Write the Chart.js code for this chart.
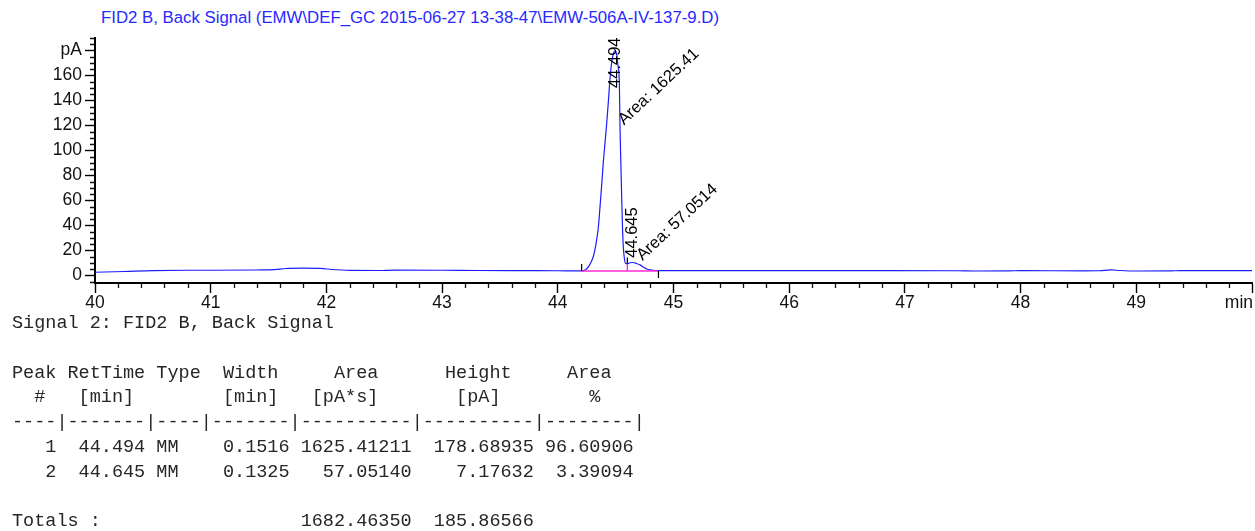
<!DOCTYPE html>
<html>
<head>
<meta charset="utf-8">
<script src="https://cdn.jsdelivr.net/npm/chart.js@4.4.1/dist/chart.umd.min.js"></script>
<style>
  html, body { margin: 0; padding: 0; background: #fff; width: 1255px; height: 531px; overflow: hidden; position: relative; }
  #title { position: absolute; left: 101px; top: 8px; font: 16.8px "Liberation Sans", Arial, sans-serif; color: #2828ff; white-space: pre; }
  #plot { position: absolute; left: 0; top: 0; }
  #report { position: absolute; left: 12px; top: 312px; margin: 0; font: 18.5px/24.8px "Liberation Mono", "Courier New", monospace; color: #262626; white-space: pre; }
</style>
</head>
<body>
<div id="title">FID2 B, Back Signal (EMW\DEF_GC 2015-06-27 13-38-47\EMW-506A-IV-137-9.D)</div>
<canvas id="plot" width="1255" height="320"></canvas>
<pre id="report"></pre>
<script>
// Detector trace: retention time [min] and signal [pA]
const retentionTimes = [
  40.00, 40.25, 40.50, 40.80, 41.00, 41.40, 41.55, 41.65, 41.80, 41.95, 42.05, 42.20, 42.45, 42.60, 43.00, 43.30, 43.60, 44.00,
  44.206, 44.24, 44.27, 44.29, 44.307, 44.33, 44.35, 44.365, 44.38, 44.393, 44.41, 44.423, 44.44, 44.451, 44.465, 44.48, 44.494,
  44.508, 44.52, 44.532, 44.538, 44.545, 44.552, 44.558, 44.566, 44.575, 44.585, 44.60, 44.625, 44.65, 44.68, 44.711, 44.74,
  44.768, 44.81, 44.87, 45.50, 46.50, 47.45, 47.60, 47.90, 48.00, 48.55, 48.68, 48.78, 48.86, 49.00, 49.30, 49.38, 50.00
];
const signalPA = [
  2.4, 3.0, 3.7, 4.0, 4.0, 4.2, 4.5, 5.4, 5.7, 5.5, 4.6, 3.9, 3.8, 4.1, 4.0, 3.8, 3.7, 3.6,
  3.5, 4.5, 7.5, 11, 15, 25, 38, 55, 73, 90, 108, 122, 143, 157, 170, 177.5, 180,
  177, 168, 154, 117, 90, 63, 42, 23, 14, 9.5, 9.3, 10.0, 10.2, 9.4, 8.3, 6.5,
  5.0, 4.2, 3.7, 3.7, 3.7, 3.6, 3.4, 3.5, 3.7, 3.5, 3.6, 4.3, 3.8, 3.4, 3.5, 3.7, 3.7
];

// Axis ticks
const xTickValues = [40, 41, 42, 43, 44, 45, 46, 47, 48, 49, 50];
const yTickValues = [0, 20, 40, 60, 80, 100, 120, 140, 160, 180];

// Integrated peaks
const peakRetTimes = [44.494, 44.645];
const peakTimeLabels = ['44.494', '44.645'];
const peakAreaLabels = ['1625.41', '57.0514'];
const integrationStart = 44.206;
const integrationSplit = 44.601;
const integrationEnd = 44.870;
const integrationBase = 3.4;
const splitSignal = 9.4;

// Report table
const peakNumbers = ['1', '2'];
const reportRetTimes = ['44.494', '44.645'];
const peakTypes = ['MM', 'MM'];
const peakWidths = ['0.1516', '0.1325'];
const peakAreas = ['1625.41211', '57.05140'];
const peakHeights = ['178.68935', '7.17632'];
const peakAreaPct = ['96.60906', '3.39094'];
const totalArea = '1682.46350';
const totalHeight = '185.86566';

const reportLines = [
  'Signal 2: FID2 B, Back Signal',
  '',
  'Peak RetTime Type  Width     Area      Height     Area  ',
  '  #   [min]        [min]   [pA*s]       [pA]        %   ',
  '----|-------|----|-------|----------|----------|--------|'
];
peakNumbers.forEach((n, i) => {
  reportLines.push(
    n.padStart(4) + reportRetTimes[i].padStart(8) + ' ' + peakTypes[i].padEnd(4) +
    peakWidths[i].padStart(8) + peakAreas[i].padStart(11) + peakHeights[i].padStart(11) +
    peakAreaPct[i].padStart(9)
  );
});
reportLines.push('');
reportLines.push('Totals :'.padEnd(25) + totalArea.padStart(11) + totalHeight.padStart(11));
document.getElementById('report').textContent = reportLines.join('\n');

const FONT = '"Liberation Sans", Arial, sans-serif';
const TRACE_BLUE = '#1c1cff';
const TICK_FONT_SIZE = 17.5;

const peakMarks = {
  id: 'peakMarks',
  afterDraw(chart) {
    const { ctx, scales: { x, y } } = chart;
    ctx.save();
    // minor ticks
    ctx.strokeStyle = '#111';
    ctx.lineWidth = 1.3;
    ctx.beginPath();
    for (let k = 0; k <= 50; k++) {
      if (k % 5 === 0) continue;
      const px = Math.round(x.getPixelForValue(40 + k * 0.2)) + 0.5;
      ctx.moveTo(px, x.top);
      ctx.lineTo(px, x.top + 5);
    }
    for (let v = -5; v <= 190; v += 5) {
      if (v % 20 === 0) continue;
      const py = Math.round(y.getPixelForValue(v)) + 0.5;
      ctx.moveTo(y.right - 5, py);
      ctx.lineTo(y.right, py);
    }
    ctx.stroke();

    // x axis unit
    ctx.fillStyle = '#111';
    ctx.font = TICK_FONT_SIZE + 'px ' + FONT;
    ctx.textAlign = 'right';
    ctx.textBaseline = 'middle';
    ctx.fillText('min', chart.width - 2, x.top + 10 + TICK_FONT_SIZE * 0.6);

    // integration baseline and drop line
    const bY = y.getPixelForValue(integrationBase);
    ctx.strokeStyle = '#ff2bd6';
    ctx.lineWidth = 1.4;
    ctx.beginPath();
    ctx.moveTo(x.getPixelForValue(integrationStart), bY);
    ctx.lineTo(x.getPixelForValue(integrationEnd), bY);
    const sx = x.getPixelForValue(integrationSplit);
    ctx.moveTo(sx, bY);
    ctx.lineTo(sx, y.getPixelForValue(splitSignal));
    ctx.stroke();

    // integration boundary marks
    ctx.strokeStyle = '#000';
    ctx.lineWidth = 1.2;
    ctx.beginPath();
    const s0 = x.getPixelForValue(integrationStart);
    ctx.moveTo(s0, bY); ctx.lineTo(s0, bY - 7);
    const sTop = y.getPixelForValue(splitSignal);
    ctx.moveTo(sx, sTop); ctx.lineTo(sx, sTop - 6);
    const e0 = x.getPixelForValue(integrationEnd);
    ctx.moveTo(e0, bY); ctx.lineTo(e0, bY + 7);
    ctx.stroke();

    // retention time labels
    ctx.fillStyle = '#000';
    ctx.font = '16.5px ' + FONT;
    ctx.textAlign = 'left';
    ctx.textBaseline = 'middle';
    const rtAnchors = [150, 14];
    peakRetTimes.forEach((t, i) => {
      ctx.save();
      ctx.translate(x.getPixelForValue(t), y.getPixelForValue(rtAnchors[i]));
      ctx.rotate(-Math.PI / 2);
      ctx.fillText(peakTimeLabels[i], 0, 0);
      ctx.restore();
    });

    // area labels
    ctx.textBaseline = 'alphabetic';
    const areaAnchors = [{ dx: 9, v: 120 }, { dx: 10, v: 11.5 }];
    peakRetTimes.forEach((t, i) => {
      ctx.save();
      ctx.translate(x.getPixelForValue(t) + areaAnchors[i].dx, y.getPixelForValue(areaAnchors[i].v));
      ctx.rotate(-43 * Math.PI / 180);
      ctx.fillText('Area: ' + peakAreaLabels[i], 0, 0);
      ctx.restore();
    });
    ctx.restore();
  }
};

new Chart(document.getElementById('plot'), {
  type: 'line',
  data: {
    datasets: [{
      data: retentionTimes.map((t, i) => ({ x: t, y: signalPA[i] })),
      borderColor: TRACE_BLUE,
      borderWidth: 1.2,
      pointRadius: 0,
      cubicInterpolationMode: 'monotone',
      fill: false
    }]
  },
  options: {
    responsive: false,
    animation: false,
    devicePixelRatio: 1,
    layout: { padding: { top: 38, right: 3, bottom: 7, left: 0 } },
    plugins: { legend: { display: false }, tooltip: { enabled: false } },
    scales: {
      x: {
        type: 'linear',
        min: 40,
        max: 50,
        afterBuildTicks(scale) { scale.ticks = xTickValues.map(v => ({ value: v })); },
        afterFit(scale) { scale.height = 30; scale.paddingLeft = 0; scale.paddingRight = 0; },
        border: { display: true, color: '#000', width: 2 },
        grid: { display: true, drawOnChartArea: false, drawTicks: true, tickLength: 10, tickColor: '#000', tickWidth: 1.4 },
        ticks: {
          autoSkip: false,
          maxRotation: 0,
          padding: 0,
          color: '#111',
          font: { family: FONT, size: TICK_FONT_SIZE },
          callback: v => (v === 50 ? '' : String(v))
        }
      },
      y: {
        type: 'linear',
        min: -6.2,
        max: 190,
        afterBuildTicks(scale) { scale.ticks = yTickValues.map(v => ({ value: v })); },
        afterFit(scale) { scale.width = 95; scale.paddingTop = 0; scale.paddingBottom = 0; },
        border: { display: true, color: '#000', width: 2 },
        grid: { display: true, drawOnChartArea: false, drawTicks: true, tickLength: 10, tickColor: '#000', tickWidth: 1.4 },
        ticks: {
          autoSkip: false,
          padding: 3,
          color: '#111',
          font: { family: FONT, size: TICK_FONT_SIZE },
          callback: v => (v === 180 ? 'pA' : String(v))
        }
      }
    }
  },
  plugins: [peakMarks]
});
</script>
</body>
</html>
